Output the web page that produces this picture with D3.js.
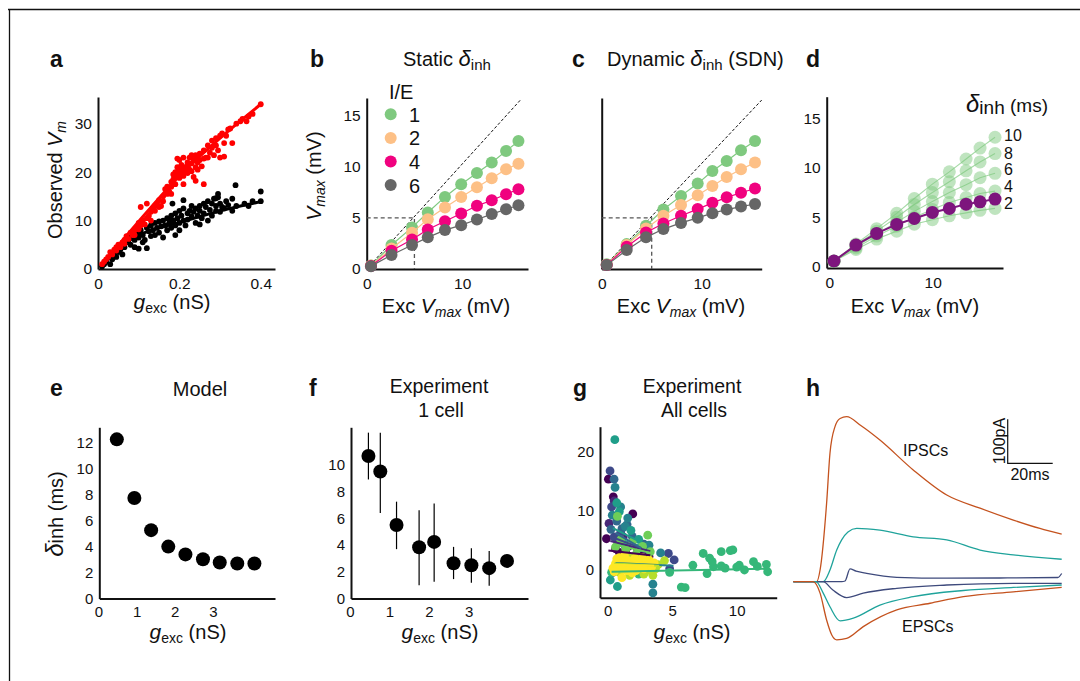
<!DOCTYPE html>
<html>
<head>
<meta charset="utf-8">
<script src="https://cdnjs.cloudflare.com/ajax/libs/d3/7.8.5/d3.min.js"></script>
<style>
body { margin: 0; background: #fff; }
svg { display: block; }
text { font-family: "Liberation Sans", Arial, sans-serif; fill: #111; }
</style>
</head>
<body>
<svg id="fig" width="1080" height="681"></svg>
<script>
// ---- panel a: observed Vm vs g_exc ----
var aRed = [[0.01,1],[0.015,1.5],[0.02,2],[0.025,2.5],[0.03,3.5],[0.035,3],[0.04,4],[0.045,3.8],[0.05,5],[0.055,4.5],[0.06,5.5],[0.065,6],[0.07,6.8],[0.075,6.2],[0.08,7.5],[0.085,7],[0.09,8],[0.095,8.6],[0.1,8.2],[0.1,9.5],[0.105,9],[0.11,10],[0.115,9.2],[0.12,10.5],[0.12,13.5],[0.125,11],[0.13,11.8],[0.135,12.5],[0.14,12],[0.14,13],[0.145,13.5],[0.15,14.2],[0.15,12.8],[0.155,13],[0.16,15],[0.16,14],[0.165,16.5],[0.17,15.5],[0.17,17],[0.175,16],[0.18,18],[0.18,17],[0.185,19.5],[0.185,18.5],[0.19,20],[0.19,19],[0.19,17.5],[0.195,21],[0.195,19.8],[0.2,20.5],[0.2,19.5],[0.2,18.8],[0.2,22.5],[0.205,20],[0.205,21.5],[0.21,20.8],[0.21,19.2],[0.21,23],[0.215,21],[0.215,20],[0.22,22],[0.22,19.8],[0.22,21.5],[0.225,20.5],[0.225,23],[0.23,21.8],[0.23,20.2],[0.235,22.5],[0.235,19],[0.24,23.5],[0.24,21],[0.245,22],[0.245,20.5],[0.25,23.8],[0.25,22.5],[0.255,21.2],[0.26,24.5],[0.26,22.8],[0.26,17.5],[0.265,23],[0.27,25.5],[0.27,23],[0.275,24],[0.28,26.5],[0.28,25],[0.285,23.5],[0.29,27],[0.29,25.5],[0.295,24.5],[0.3,27.5],[0.3,23],[0.305,28],[0.31,26],[0.31,23.2],[0.315,27.5],[0.32,28.8],[0.325,29],[0.33,26],[0.34,30],[0.35,30.5],[0.355,31],[0.365,30.5],[0.37,31.5],[0.38,32],[0.4,34],[0.21,17.5],[0.18,15.5],[0.13,10],[0.09,7],[0.065,5.2],[0.045,4.5],[0.105,12.8],[0.23,23.5],[0.24,18.2],[0.195,22.8]];
var aBlack = [[0.01,0.5],[0.015,1],[0.02,1.5],[0.03,1],[0.035,2],[0.04,3],[0.045,2.5],[0.05,3.5],[0.055,4],[0.06,3],[0.06,5],[0.065,4.5],[0.07,5.5],[0.075,6],[0.08,5],[0.08,6.5],[0.085,7],[0.09,6],[0.09,4.5],[0.095,7.5],[0.1,6.5],[0.1,4.2],[0.105,8],[0.11,7],[0.11,5.5],[0.115,6],[0.12,8.5],[0.12,4.3],[0.125,7.8],[0.13,9],[0.13,6.8],[0.135,8],[0.14,9.5],[0.14,7],[0.145,8.5],[0.15,9.8],[0.15,7.5],[0.155,8.8],[0.16,10],[0.16,6.5],[0.165,9],[0.17,10.5],[0.17,8],[0.175,9.5],[0.18,11],[0.18,8.5],[0.185,10],[0.19,11.5],[0.19,9],[0.19,7],[0.195,10.5],[0.2,12],[0.2,9.5],[0.2,8],[0.205,11],[0.21,10],[0.21,12.5],[0.215,9],[0.22,11.5],[0.22,10.2],[0.225,12],[0.23,13],[0.23,10.8],[0.235,11.8],[0.24,12.5],[0.24,9.5],[0.245,11],[0.25,13],[0.25,12],[0.255,10.5],[0.26,13.5],[0.26,11.5],[0.265,12.8],[0.27,14],[0.27,10],[0.275,12.2],[0.28,13.5],[0.28,11],[0.285,14.5],[0.29,13],[0.29,12],[0.295,14.8],[0.3,13.5],[0.3,11.8],[0.305,12.8],[0.31,12.5],[0.315,14],[0.32,13.2],[0.33,12],[0.33,14.5],[0.34,13],[0.338,17.3],[0.36,13.5],[0.37,13],[0.38,14],[0.4,16],[0.4,14],[0.183,13.5],[0.18,10],[0.21,14.2],[0.29,14.6],[0.295,15.5],[0.25,9.2]];
var aRedFit = [[0.01,0.8],[0.1,9.8],[0.2,19.2],[0.3,27],[0.4,34]];
var aBlackFit = [[0.01,0.6],[0.03,2.5],[0.05,4.2],[0.07,5.6],[0.1,7.1],[0.15,8.5],[0.2,9.6],[0.25,10.8],[0.3,12],[0.35,13],[0.4,13.9]];

// ---- panels b, c: Vmax vs Exc Vmax for I/E ratios ----
var ieLabels = ["1", "2", "4", "6"];
var ieColors = ["#7fc97f", "#fdc086", "#f0027f", "#666666"];
var bExc = [0.45, 2.6, 4.75, 6.4, 8.2, 9.9, 11.55, 13.1, 14.6, 15.9];
var bVmax = [
  [0.35, 2.34, 4.06, 5.52, 7.04, 8.28, 9.38, 10.39, 11.52, 12.49],
  [0.33, 2.0, 3.54, 4.87, 6.0, 7.04, 7.98, 8.86, 9.74, 10.29],
  [0.3, 1.79, 2.89, 3.86, 4.67, 5.42, 6.17, 6.72, 7.3, 7.79],
  [0.28, 1.36, 2.34, 3.09, 3.8, 4.28, 4.84, 5.36, 5.84, 6.23]
];
var cExc = [0.5, 2.5, 4.43, 6.17, 7.93, 9.6, 11.07, 12.5, 13.93, 15.33];
var cVmax = [
  [0.46, 2.43, 4.22, 5.81, 7.14, 8.34, 9.57, 10.55, 11.59, 12.49],
  [0.42, 2.35, 3.96, 5.19, 6.26, 7.2, 8.11, 8.99, 9.74, 10.39],
  [0.4, 2.17, 3.57, 4.45, 5.2, 5.85, 6.46, 7.0, 7.45, 7.86],
  [0.38, 1.85, 3.09, 3.9, 4.5, 5.0, 5.45, 5.8, 6.1, 6.35]
];
var bDiag = [[0, 0], [16.2, 16.6]];
var cDiag = [[0, 0], [16.0, 16.5]];
var zoomBox = [[0, 5], [5, 5], [5, 0]];

// ---- panel d: static delta_inh (green) vs dynamic (purple) ----
var dExc = [0.45, 2.58, 4.58, 6.52, 8.22, 9.97, 11.61, 13.23, 14.58, 16.03];
var dDeltas = ["10", "8", "6", "4", "2"];
var dStatic = [
  [0.55, 2.3, 3.85, 5.4, 6.9, 8.35, 9.6, 10.9, 12.0, 13.1],
  [0.55, 2.2, 3.6, 5.0, 6.3, 7.5, 8.6, 9.7, 10.6, 11.45],
  [0.55, 2.05, 3.3, 4.5, 5.6, 6.6, 7.5, 8.3, 9.0, 9.45],
  [0.55, 1.9, 3.1, 4.1, 5.0, 5.8, 6.5, 7.0, 7.4, 7.65],
  [0.55, 1.75, 2.8, 3.6, 4.3, 4.75, 5.15, 5.45, 5.7, 5.9]
];
var dLabelY = [13.3, 11.5, 9.8, 8.1, 6.4];
var dDynamic = [0.58, 2.19, 3.37, 4.28, 4.88, 5.49, 5.89, 6.33, 6.56, 6.84];

// ---- panel e: model delta_inh vs g_exc ----
var eG = [0.48, 0.94, 1.38, 1.83, 2.28, 2.74, 3.18, 3.64, 4.09];
var eDelta = [12.27, 7.75, 5.27, 4.0, 3.4, 3.03, 2.77, 2.7, 2.7];

// ---- panel f: one cell, mean with error bars ----
var fG = [0.47, 0.77, 1.18, 1.75, 2.13, 2.62, 3.07, 3.52, 3.97];
var fDelta = [10.65, 9.5, 5.5, 3.83, 4.23, 2.64, 2.49, 2.27, 2.81];
var fLo = [8.9, 6.4, 3.69, 1.0, 1.25, 1.45, 1.17, 0.95, null];
var fHi = [12.4, 12.4, 7.24, 6.6, 7.1, 3.86, 3.76, 3.56, null];

// ---- panel g: all cells ----
var gColors = ["#440154", "#482878", "#3e4989", "#31688e", "#26828e", "#1f9e89", "#35b779", "#6ece58", "#b5de2b", "#fde725"];
var gPoints = [
  [[0.05,15.3],[0.43,12.3],[1.94,9.4],[-0.1,5.2],[0.6,3.5],[1.4,2.8],[2.5,2.6],[3.2,2.2],[0.9,2.9]],
  [[0.5,11.6],[0.1,7.8],[0.8,4.6],[1.6,3.9],[2.3,3.5],[3,3.1],[1.2,5.5]],
  [[0.18,16.7],[0.3,10.6],[1.0,6.2],[0.5,5.5],[1.8,4.4],[2.6,3.8],[0.4,-0.5],[5.15,1.6],[4.7,2.7],[4.8,0.1]],
  [[0.49,15.3],[0.25,6.8],[1.1,6.9],[1.9,5.6],[2.8,4.3],[0.7,8.2],[1.5,7.6]],
  [[1.0,10.6],[1.55,8.7],[0.57,13.9],[0.35,9.2],[1.35,7.3],[3.2,4.1],[4.1,2.8],[3.5,-2.5],[3.5,-4],[2.2,1.2],[1.5,0.8]],
  [[0.55,22],[0.75,-2.9],[0.2,-1.8],[0.9,9.8],[0.7,11.3],[1.8,6.6],[2.4,5.1],[1.3,4.2]],
  [[7.4,2.7],[8.8,3.0],[9.5,3.2],[9.7,3.3],[10.2,0.7],[11.3,1.3],[12.3,0.85],[12.4,-0.4],[5.7,-3.0],[6.0,-3.1],[6.6,0.7],[8.2,0.45],[7.7,-0.7],[8.8,0.6],[8.1,1.3],[10.0,0.4],[7.9,1.9],[9.1,0.2],[11.6,0.5],[10.6,-0.1],[4.8,-0.5],[0.3,-0.5],[0.9,0.4],[1.6,1.1],[2.4,-0.8],[3.1,0.3],[1.2,4.4],[2.5,3.7]],
  [[0.75,9],[3.1,5.8],[1.0,5.0],[1.9,4.6],[2.7,3.9],[3.3,3.0],[0.6,3.8],[1.4,3.4],[2.2,2.6]],
  [[1.7,-1],[3.5,-1],[3.7,0.1],[2.8,-0.8],[0.6,0.2],[1.2,1.3],[2.0,0.9],[3.0,1.4],[3.9,0.8],[2.5,1.9],[1.6,2.2],[0.9,-0.5],[4.4,1.5],[3.3,-0.2]],
  [[1.1,-1.4],[0.4,0.2],[0.6,1.0],[0.8,0.4],[1.0,1.6],[1.2,0.0],[1.4,0.8],[1.6,1.5],[1.8,0.3],[2.0,1.1],[2.2,-0.2],[2.4,0.7],[2.6,1.3],[2.8,0.1],[3.0,0.9],[3.2,1.6],[3.4,0.4],[0.5,-0.4],[0.9,2.0],[1.3,2.3],[1.9,-0.6],[2.7,2.0],[1.5,-0.2],[0.7,1.8],[2.1,1.9],[3.6,1.1]]
];
var gFits = [
  [[0.05,3.2],[3.3,2.4]], [[0.2,4.8],[3.3,3.1]], [[0.3,5.5],[2.6,3.6]], [[0.6,6.2],[2.6,3.6]],
  [[0.6,1.1],[5.1,0.6]], [[0.4,7],[2.4,4.8]], [[0.3,-0.4],[12.3,0.1]], [[0.6,4.2],[3.3,2.8]],
  [[0.5,1],[4.0,0.6]], [[0.4,0.8],[3.6,0.6]]
];

// ---- panel h: current traces (t in ms, I in pA) ----
var hColors = ["#c4521e", "#1fa39b", "#3e4a7c", "#3e4a7c", "#1fa39b", "#c4521e"];
var hTraces = [
  [[0,0],[10.4,0],[11.9,26.6],[14.8,178],[16.3,292],[18.5,352],[20.8,371],[23.7,375],[30,355],[38.5,322],[53.3,254],[68.2,197],[83,167],[97.8,140],[109.6,121],[119.3,108]],
  [[0,0],[13.3,0],[16.3,26.6],[19.3,72],[21.5,95],[24.3,113],[28.2,121],[38.5,117],[53.3,102],[68.2,95],[83,72],[97.8,61],[119.3,51]],
  [[0,0],[21.5,0],[23,1.6],[25.2,29],[27.9,24],[32.6,19],[46,10],[68.2,8],[91.9,8.4],[117.6,9.5],[119.3,18.6]],
  [[0,0],[13.2,0],[17.6,-19],[23.7,-36],[31.1,-26],[46,-15],[68.2,-7.5],[97.8,-3.6],[119.3,-4]],
  [[0,0],[10.1,0],[13.3,-26],[16.3,-57],[20.8,-89],[26.7,-83],[38.5,-53],[53.3,-34],[75.6,-20],[97.8,-13],[119.3,-7.5]],
  [[0,0],[8.8,0],[11.9,-26],[14.8,-87],[17.1,-121],[19.3,-132],[23.7,-129],[31.1,-102],[46,-64],[60.8,-49],[75.6,-34],[97.8,-23],[119.3,-13]]
];
var hScaleBar = { t: 95.3, i: 269, dt: 20, di: 100 };

var svg = d3.select("#fig");

// frame
svg.append("path").attr("d", "M8,9.5H1080M9.5,9V681")
    .attr("stroke", "#111").attr("stroke-width", 1.3).attr("fill", "none");

// rich text helper: parts = [{t, size, it, dy}]
function rich(g, x, y, parts, anchor, rotate) {
    var t = g.append("text").attr("x", x).attr("y", y)
        .attr("text-anchor", anchor || "middle");
    if (rotate) t.attr("transform", "rotate(-90," + x + "," + y + ")");
    parts.forEach(function (p) {
        var s = t.append("tspan").text(p.t).style("font-size", p.size + "px");
        if (p.it) s.style("font-style", "italic");
        if (p.dy) s.attr("dy", p.dy);
    });
    return t;
}

function panelLetter(x, y, s) {
    svg.append("text").attr("x", x).attr("y", y).text(s)
        .style("font-size", "23px").style("font-weight", "bold");
}

function title(x, y, s, fs) {
    svg.append("text").attr("x", x).attr("y", y).attr("text-anchor", "middle").text(s).style("font-size", (fs || 20) + "px");
}

// axes helper
function drawAxes(x, y, xt, yt, fs, xfmt) {
    var g = svg.append("g");
    var ax = g.append("g").attr("transform", "translate(0," + y.range()[0] + ")")
        .call(d3.axisBottom(x).tickValues(xt).tickSize(0).tickPadding(fs > 15 ? 9 : 8).tickFormat(xfmt || d3.format("")));
    var ay = g.append("g").attr("transform", "translate(" + x.range()[0] + ",0)")
        .call(d3.axisLeft(y).tickValues(yt).tickSize(0).tickPadding(6).tickFormat(d3.format("")));
    [ax, ay].forEach(function (a) {
        a.select(".domain").attr("stroke", "#111").attr("stroke-width", 2);
        a.selectAll("text").style("font-size", fs + "px").style("font-family", "'Liberation Sans', Arial, sans-serif").attr("fill", "#111");
    });
    return g;
}

function gexcLabel(x, y) {
    rich(svg, x, y, [{ t: "g", size: 21, it: true }, { t: "exc", size: 14, dy: 4 }, { t: " (nS)", size: 20, dy: -4 }]);
}
function excVmaxLabel(x, y) {
    rich(svg, x, y, [{ t: "Exc ", size: 20 }, { t: "V", size: 21, it: true }, { t: "max", size: 14, it: true, dy: 4 }, { t: " (mV)", size: 20, dy: -4 }]);
}

var line = d3.line();

// ================= panel a =================
panelLetter(50, 67, "a");
var ax_ = d3.scaleLinear().domain([0, 0.435]).range([98, 275]);
var ay_ = d3.scaleLinear().domain([0, 35.5]).range([269, 97]);
drawAxes(ax_, ay_, [0, 0.2, 0.4], [0, 10, 20, 30], 15.5, function (d) { return d === 0 ? "0" : d3.format(".1f")(d); });
svg.append("g").selectAll("circle").data(aBlack).enter().append("circle")
    .attr("cx", function (d) { return ax_(d[0]); }).attr("cy", function (d) { return ay_(d[1]); })
    .attr("r", 2.9).attr("fill", "#000");
svg.append("path").attr("d", line(aBlackFit.map(function (d) { return [ax_(d[0]), ay_(d[1])]; })))
    .attr("stroke", "#000").attr("stroke-width", 3).attr("fill", "none");
svg.append("g").selectAll("circle").data(aRed).enter().append("circle")
    .attr("cx", function (d) { return ax_(d[0]); }).attr("cy", function (d) { return ay_(d[1]); })
    .attr("r", 2.9).attr("fill", "#ff0000");
svg.append("path").attr("d", d3.line().curve(d3.curveMonotoneX)(aRedFit.map(function (d) { return [ax_(d[0]), ay_(d[1])]; })))
    .attr("stroke", "#ff0000").attr("stroke-width", 3).attr("fill", "none");
rich(svg, 62, 180, [{ t: "Observed ", size: 20 }, { t: "V", size: 21, it: true }, { t: "m", size: 14, it: true, dy: 4 }], "middle", true);
gexcLabel(172, 309);

// ================= panels b, c =================
function ieScatter(x, y, exc, vmax, diag) {
    var g = svg.append("g");
    g.append("path").attr("d", line(diag.map(function (d) { return [x(d[0]), y(d[1])]; })))
        .attr("stroke", "#111").attr("stroke-width", 1).attr("stroke-dasharray", "3,2").attr("fill", "none");
    g.append("path").attr("d", line(zoomBox.map(function (d) { return [x(d[0]), y(d[1])]; })))
        .attr("stroke", "#555").attr("stroke-width", 1.3).attr("stroke-dasharray", "4,3").attr("fill", "none");
    vmax.forEach(function (ser, i) {
        var pts = ser.map(function (v, j) { return [x(exc[j]), y(v)]; });
        g.append("path").attr("d", line(pts)).attr("stroke", ieColors[i]).attr("stroke-width", 1.2).attr("fill", "none");
        g.selectAll(".p" + i).data(pts).enter().append("circle")
            .attr("cx", function (d) { return d[0]; }).attr("cy", function (d) { return d[1]; })
            .attr("r", 6).attr("fill", ieColors[i]);
    });
}

panelLetter(310, 67, "b");
rich(svg, 403, 66, [{ t: "Static ", size: 20 }, { t: "δ", size: 22, it: true }, { t: "inh", size: 15, dy: 4 }], "start");
var bx = d3.scaleLinear().domain([0, 16.9]).range([366.7, 528]);
var by = d3.scaleLinear().domain([0, 16.7]).range([269, 98]);
drawAxes(bx, by, [0, 10], [0, 5, 10, 15], 15.5);
ieScatter(bx, by, bExc, bVmax, bDiag);
svg.append("text").attr("x", 389).attr("y", 99).text("I/E").style("font-size", "20px");
ieLabels.forEach(function (l, i) {
    var cy = 114.3 + i * 23.6;
    svg.append("circle").attr("cx", 390.7).attr("cy", cy).attr("r", 6).attr("fill", ieColors[i]);
    svg.append("text").attr("x", 409).attr("y", cy + 7.5).text(l).style("font-size", "20px");
});
rich(svg, 321, 176, [{ t: "V", size: 21, it: true }, { t: "max", size: 14, it: true, dy: 4 }, { t: " (mV)", size: 20, dy: -4 }], "middle", true);
excVmaxLabel(446, 313);

panelLetter(572, 67, "c");
rich(svg, 607, 66, [{ t: "Dynamic ", size: 20 }, { t: "δ", size: 22, it: true }, { t: "inh", size: 15, dy: 4 }, { t: " (SDN)", size: 20, dy: -4 }], "start");
var cx = d3.scaleLinear().domain([0, 16]).range([601.7, 761.7]);
var cy = d3.scaleLinear().domain([0, 16.7]).range([269, 98]);
drawAxes(cx, cy, [0, 10], [], 15.5);
ieScatter(cx, cy, cExc, cVmax, cDiag);
excVmaxLabel(681, 313);

// ================= panel d =================
panelLetter(806, 67, "d");
var dx = d3.scaleLinear().domain([-0.25, 16.8]).range([826.7, 1003]);
var dy = d3.scaleLinear().domain([-0.13, 17.2]).range([268, 96.7]);
drawAxes(dx, dy, [0, 10], [0, 5, 10, 15], 15.5);
dStatic.forEach(function (ser, i) {
    var pts = ser.map(function (v, j) { return [dx(dExc[j]), dy(v)]; });
    svg.append("path").attr("d", line(pts)).attr("stroke", "#7fc97f").attr("stroke-opacity", 0.7)
        .attr("stroke-width", 1.1).attr("fill", "none");
    svg.append("g").selectAll("circle").data(pts).enter().append("circle")
        .attr("cx", function (d) { return d[0]; }).attr("cy", function (d) { return d[1]; })
        .attr("r", 6.5).attr("fill", "#7fc97f").attr("fill-opacity", 0.5);
    svg.append("text").attr("x", 1004).attr("y", dy(dLabelY[i])).attr("dy", "0.35em")
        .text(dDeltas[i]).style("font-size", "16px");
});
var dPts = dDynamic.map(function (v, j) { return [dx(dExc[j]), dy(v)]; });
svg.append("path").attr("d", line(dPts)).attr("stroke", "#7d157d").attr("stroke-width", 2).attr("fill", "none");
svg.append("g").selectAll("circle").data(dPts).enter().append("circle")
    .attr("cx", function (d) { return d[0]; }).attr("cy", function (d) { return d[1]; })
    .attr("r", 6.5).attr("fill", "#7d157d");
rich(svg, 966, 112, [{ t: "δ", size: 24, it: true }, { t: "inh", size: 19, dy: 2 }, { t: " (ms)", size: 19, dy: -2 }], "start");
excVmaxLabel(915, 313);

// ================= panel e =================
panelLetter(50, 396, "e");
title(200, 396, "Model");
var ex = d3.scaleLinear().domain([0.02, 4.63]).range([99.3, 275]);
var ey = d3.scaleLinear().domain([0, 13.2]).range([598.5, 427.3]);
drawAxes(ex, ey, [0, 1, 2, 3], [0, 2, 4, 6, 8, 10, 12], 15);
svg.append("g").selectAll("circle").data(eG).enter().append("circle")
    .attr("cx", function (d) { return ex(d); }).attr("cy", function (d, i) { return ey(eDelta[i]); })
    .attr("r", 7).attr("fill", "#000");
rich(svg, 63, 514, [{ t: "δ", size: 24, it: true }, { t: "inh (ms)", size: 20 }], "middle", true);
gexcLabel(188, 639);

// ================= panel f =================
panelLetter(309, 396, "f");
title(439, 393, "Experiment", 19.5);
title(441, 417, "1 cell", 19.5);
var fx = d3.scaleLinear().domain([0.03, 4.5]).range([351, 528]);
var fy = d3.scaleLinear().domain([0, 12.8]).range([598.5, 427.3]);
drawAxes(fx, fy, [0, 1, 2, 3], [0, 2, 4, 6, 8, 10], 15);
svg.append("g").selectAll("line").data(fG.filter(function (d, i) { return fLo[i] !== null; })).enter().append("line")
    .attr("x1", function (d) { return fx(d); }).attr("x2", function (d) { return fx(d); })
    .attr("y1", function (d, i) { return fy(fLo[i]); }).attr("y2", function (d, i) { return fy(fHi[i]); })
    .attr("stroke", "#000").attr("stroke-width", 1.2);
svg.append("g").selectAll("circle").data(fG).enter().append("circle")
    .attr("cx", function (d) { return fx(d); }).attr("cy", function (d, i) { return fy(fDelta[i]); })
    .attr("r", 7).attr("fill", "#000");
gexcLabel(440, 639);

// ================= panel g =================
panelLetter(573, 396, "g");
title(692, 393, "Experiment", 19.5);
title(694, 417, "All cells", 19.5);
var gx = d3.scaleLinear().domain([-0.6, 13.1]).range([600, 776.7]);
var gy = d3.scaleLinear().domain([-4.8, 24.2]).range([597.7, 426.7]);
drawAxes(gx, gy, [0, 5, 10], [0, 10, 20], 15);
gPoints.forEach(function (cell, i) {
    svg.append("g").selectAll("circle").data(cell).enter().append("circle")
        .attr("cx", function (d) { return gx(d[0]); }).attr("cy", function (d) { return gy(d[1]); })
        .attr("r", 4.4).attr("fill", gColors[i]);
});
gFits.forEach(function (f, i) {
    svg.append("path").attr("d", line(f.map(function (d) { return [gx(d[0]), gy(d[1])]; })))
        .attr("stroke", gColors[i]).attr("stroke-width", 2).attr("fill", "none");
});
gexcLabel(692, 639);

// ================= panel h =================
panelLetter(806, 396, "h");
var hx = d3.scaleLinear().domain([0, 119.3]).range([793.3, 1061.7]);
var hy = d3.scaleLinear().domain([-140, 380]).range([643.3, 414.5]);
var hLine = d3.line().curve(d3.curveMonotoneX).x(function (d) { return hx(d[0]); }).y(function (d) { return hy(d[1]); });
hTraces.forEach(function (tr, i) {
    svg.append("path").attr("d", hLine(tr)).attr("stroke", hColors[i]).attr("stroke-width", 1.3).attr("fill", "none");
});
svg.append("path")
    .attr("d", "M" + hx(hScaleBar.t) + "," + hy(hScaleBar.i + hScaleBar.di) + "V" + hy(hScaleBar.i) + "H" + hx(hScaleBar.t + hScaleBar.dt))
    .attr("stroke", "#111").attr("stroke-width", 1.2).attr("fill", "none");
svg.append("text").attr("x", 1005).attr("y", 441).attr("text-anchor", "middle")
    .attr("transform", "rotate(-90,1005,441)").text("100pA").style("font-size", "16px");
svg.append("text").attr("x", 1030).attr("y", 480).attr("text-anchor", "middle").text("20ms").style("font-size", "16px");
svg.append("text").attr("x", 903).attr("y", 456).text("IPSCs").style("font-size", "16px");
svg.append("text").attr("x", 902).attr("y", 632).text("EPSCs").style("font-size", "16px");
</script>
</body>
</html>
